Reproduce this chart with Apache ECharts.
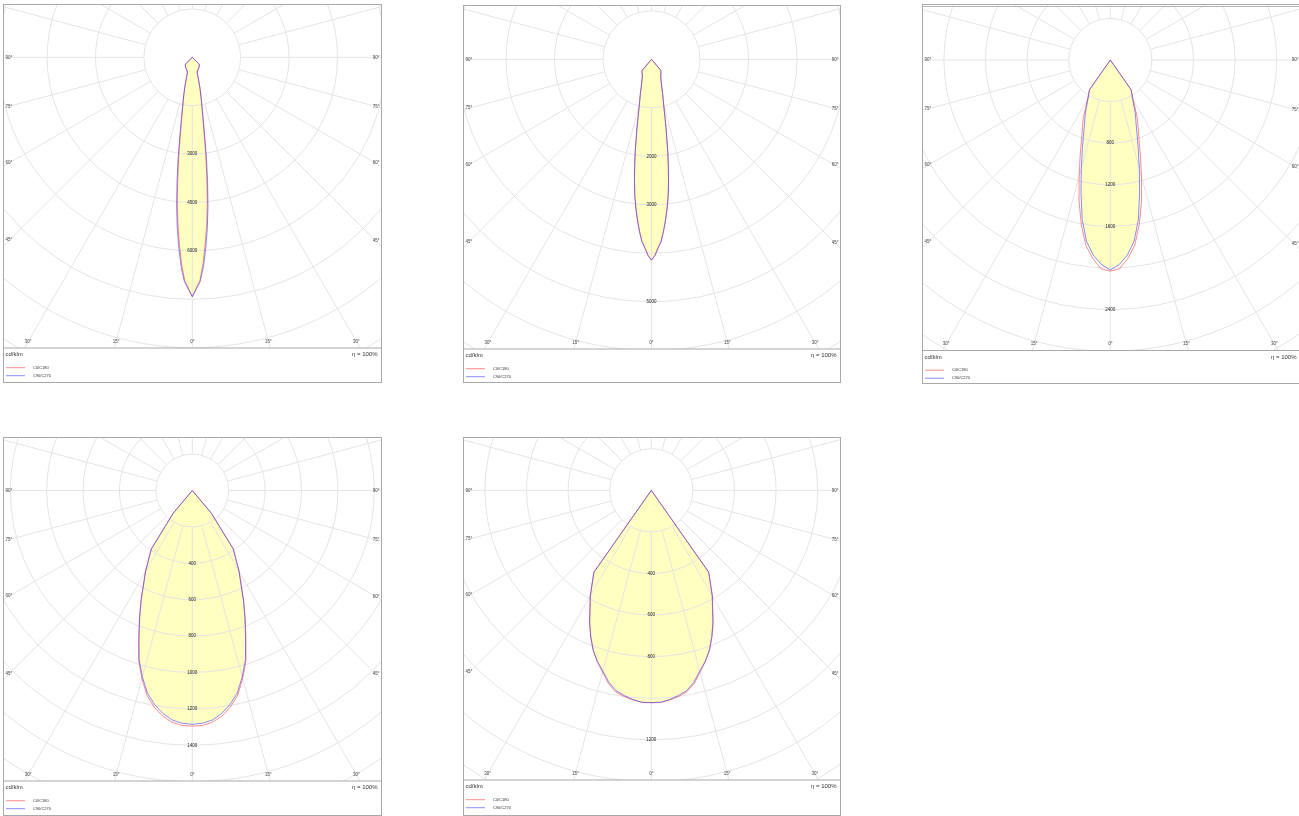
<!DOCTYPE html>
<html>
<head>
<meta charset="utf-8">
<script src="https://cdn.jsdelivr.net/npm/echarts@6/dist/echarts.min.js"></script>
<style>
  html, body { margin: 0; padding: 0; background: #fff; width: 1299px; height: 816px; overflow: hidden; }
  .panel { position: absolute; box-sizing: border-box; border: 1px solid #a9a9a9; background: #fff; }
  .panel .chart { position: absolute; left: 0; top: 0; }
</style>
</head>
<body>
<script>
  // gamma angles (deg from nadir) at which the curves were read
  var gammaNarrow = [0, 1, 2, 3, 4, 5, 6, 7, 8, 9, 10, 12, 14, 16, 18, 20, 25, 30, 35, 40, 45, 50, 60, 70, 80, 90];
  var gammaWide = [0, 2.5, 5, 7.5, 10, 12.5, 15, 17.5, 20, 22.5, 25, 30, 35, 40, 45, 50, 55, 60, 70, 80, 90];

  // cd/klm, C0/C180 and C90/C270 planes
  var p1C0 = [7420, 7150, 6900, 6400, 5780, 5150, 4450, 3670, 2940, 2300, 1860, 1320, 975, 650, 480, 445, 420, 395, 370, 340, 305, 0, 0, 0, 0, 0];
  var p1C90 = [7420, 7180, 6960, 6520, 5950, 5330, 4650, 3880, 3150, 2450, 1950, 1370, 990, 660, 485, 445, 420, 395, 370, 340, 305, 0, 0, 0, 0, 0];
  var p2C0 = [4140, 4040, 3880, 3760, 3550, 3320, 3080, 2820, 2520, 2210, 1930, 1430, 1085, 875, 740, 620, 460, 380, 340, 300, 0, 0, 0, 0, 0, 0];
  var p2C90 = [4140, 4050, 3900, 3770, 3560, 3330, 3090, 2830, 2530, 2220, 1940, 1440, 1090, 880, 745, 625, 460, 380, 340, 300, 0, 0, 0, 0, 0, 0];
  var p3C0 = [2030, 2010, 1918, 1798, 1606, 1389, 1158, 964, 807, 700, 613, 442, 348, 0, 0, 0, 0, 0, 0, 0, 0];
  var p3C90 = [2019, 1968, 1883, 1757, 1557, 1303, 1077, 894, 750, 645, 570, 428, 348, 0, 0, 0, 0, 0, 0, 0, 0];
  var p4C0 = [1295, 1292, 1278, 1250, 1208, 1152, 1070, 980, 862, 760, 668, 516, 394, 163, 0, 0, 0, 0, 0, 0, 0];
  var p4C90 = [1285, 1280, 1266, 1236, 1194, 1140, 1060, 972, 855, 755, 664, 513, 392, 162, 0, 0, 0, 0, 0, 0, 0];
  var p5C0 = [1021, 1021, 1012, 1000, 984, 952, 905, 864, 817, 760, 700, 585, 480, 0, 0, 0, 0, 0, 0, 0, 0];
  var p5C90 = [1021, 1020, 1010, 995, 978, 945, 900, 862, 818, 762, 703, 588, 482, 0, 0, 0, 0, 0, 0, 0, 0];

  // labelled rings on the 0° ray
  var p1Rings = [3000, 4500, 6000];
  var p2Rings = [2000, 3000, 5000];
  var p3Rings = [800, 1200, 1600, 2400];
  var p4Rings = [400, 600, 800, 1000, 1200, 1400];
  var p5Rings = [400, 600, 800, 1200];

  var sideAngles = [90, 75, 60, 45];
  var bottomAngles = [30, 15, 0];
  var seriesNames = ['C0/C180', 'C90/C270'];

  var FONT = '"Liberation Sans", Arial, sans-serif';
  var GRID = '#e4e4e4';
  var RED = 'rgba(255,60,60,0.6)';
  var BLUE = 'rgba(60,60,255,0.6)';
  var FILL = '#ffffc2';

  var panels = [
    { box: [3, 4, 379, 379], sep: 348, center: [192.3, 57.3], step: 1500, stepPx: 48.4, rings: p1Rings, gamma: gammaNarrow, c0: p1C0, c90: p1C90 },
    { box: [463, 5, 378, 378], sep: 349, center: [651.5, 59.3], step: 1000, stepPx: 48.5, rings: p2Rings, gamma: gammaNarrow, c0: p2C0, c90: p2C90 },
    { box: [922, 4, 379, 380], sep: 350.5, center: [1110.3, 60], step: 400, stepPx: 41.6, rings: p3Rings, gamma: gammaWide, c0: p3C0, c90: p3C90, topLine: true },
    { box: [3, 437, 379, 379], sep: 781, center: [192.3, 490.5], step: 200, stepPx: 36.4, rings: p4Rings, gamma: gammaWide, c0: p4C0, c90: p4C90 },
    { box: [463, 437, 378, 379], sep: 780, center: [651.3, 490.3], step: 200, stepPx: 41.6, rings: p5Rings, gamma: gammaWide, c0: p5C0, c90: p5C90 }
  ];

  // mirror one half-plane onto both sides of the nadir
  function halfToFull(gamma, vals) {
    var pts = [];
    for (var i = gamma.length - 1; i >= 0; i--) pts.push([vals[i], 360 - gamma[i]]);
    for (var j = 0; j < gamma.length; j++) pts.push([vals[j], gamma[j]]);
    return pts;
  }

  function txt(s, x, y, align, size, color) {
    return {
      type: 'text', x: x, y: y, z: 11, silent: true,
      style: { text: s, fill: color || '#444', fontSize: size || 4.5, fontFamily: FONT, align: align, verticalAlign: 'middle' }
    };
  }

  function panelOption(p) {
    var x0 = p.box[0] + 1, y0 = p.box[1] + 1;
    var w = p.box[2] - 2, h = p.box[3] - 2;
    var cx = p.center[0] - x0, cy = p.center[1] - y0;
    var sepY = p.sep - y0;
    var far = Math.max(Math.hypot(cx, cy), Math.hypot(w - cx, cy), Math.hypot(cx, sepY - cy), Math.hypot(w - cx, sepY - cy));
    var n = Math.ceil(far / p.stepPx) + 1;
    var outer = n * p.stepPx;
    var fillVals = p.c0.map(function (v, i) { return Math.min(v, p.c90[i]); });

    var g = [
      { type: 'rect', z: 10, silent: true, shape: { x: 0, y: sepY, width: w, height: h - sepY }, style: { fill: '#fff' } },
      { type: 'line', z: 11, silent: true, shape: { x1: 0, y1: sepY, x2: w, y2: sepY }, style: { stroke: '#a9a9a9', lineWidth: 1 } },
      txt('cd/klm', 1.5, sepY + 6.5, 'left', 6, '#333'),
      txt('η = 100%', w - 3.5, sepY + 6.5, 'right', 6, '#333')
    ];
    if (p.topLine) {
      g.push({ type: 'line', z: 11, silent: true, shape: { x1: 0, y1: 1.5, x2: w, y2: 1.5 }, style: { stroke: '#b5b5b5', lineWidth: 1 } });
    }
    // angle labels where the rays leave the plot frame
    var sideX = 5.5;
    sideAngles.forEach(function (a) {
      var t = Math.tan(a * Math.PI / 180);
      g.push(txt(a + '°', 1.5, cy + (cx - sideX) / t, 'left'));
      g.push(txt(a + '°', w - 1.5, cy + (w - sideX - cx) / t, 'right'));
    });
    var by = sepY - 6.3;
    bottomAngles.forEach(function (a) {
      var dx = (by - cy) * Math.tan(a * Math.PI / 180);
      g.push(txt(a + '°', cx - dx, by, 'center'));
      if (a) g.push(txt(a + '°', cx + dx, by, 'center'));
    });

    return {
      animation: false,
      textStyle: { fontFamily: FONT },
      polar: [
        { center: [cx, cy], radius: [0, outer] },
        { center: [cx, cy], radius: [p.stepPx, outer] }
      ],
      angleAxis: [
        { polarIndex: 0, type: 'value', min: 0, max: 360, startAngle: 270, clockwise: false, show: false },
        {
          polarIndex: 1, type: 'value', min: 0, max: 360, interval: 15, startAngle: 270, clockwise: false, z: 2,
          axisLine: { show: false }, axisTick: { show: false }, axisLabel: { show: false },
          splitLine: { show: true, lineStyle: { color: GRID, width: 1 } }
        }
      ],
      radiusAxis: [
        {
          polarIndex: 0, type: 'value', min: 0, max: n * p.step, interval: p.step, z: 2,
          axisLine: { show: false }, axisTick: { show: false },
          splitLine: { show: true, lineStyle: { color: GRID, width: 1 } },
          axisLabel: {
            margin: 0, align: 'center', verticalAlign: 'middle', fontSize: 4.5, color: '#222',
            formatter: function (v) { return p.rings.indexOf(v) >= 0 ? String(v) : ''; }
          }
        },
        { polarIndex: 1, type: 'value', min: 0, max: 1, show: false }
      ],
      legend: {
        data: seriesNames, orient: 'vertical', left: 2, top: sepY + 17.2, padding: 0,
        icon: 'rect', itemWidth: 19, itemHeight: 1, itemGap: 3, selectedMode: false, z: 12,
        textStyle: { fontSize: 4, lineHeight: 5, color: '#333', fontFamily: FONT, padding: [0, 0, 0, 3] }
      },
      graphic: { elements: g },
      series: [
        {
          name: 'fill', type: 'line', coordinateSystem: 'polar', polarIndex: 0, symbol: 'none', silent: true, z: 1,
          data: halfToFull(p.gamma, fillVals),
          lineStyle: { width: 0, opacity: 0 }, areaStyle: { color: FILL, opacity: 1 }
        },
        {
          name: seriesNames[0], type: 'line', coordinateSystem: 'polar', polarIndex: 0, symbol: 'none', z: 3,
          data: halfToFull(p.gamma, p.c0),
          lineStyle: { color: RED, width: 1 }, itemStyle: { color: RED }
        },
        {
          name: seriesNames[1], type: 'line', coordinateSystem: 'polar', polarIndex: 0, symbol: 'none', z: 3,
          data: halfToFull(p.gamma, p.c90),
          lineStyle: { color: BLUE, width: 1 }, itemStyle: { color: BLUE }
        }
      ]
    };
  }

  var charts = [];
  panels.forEach(function (p, i) {
    var box = document.createElement('div');
    box.className = 'panel';
    box.style.left = p.box[0] + 'px';
    box.style.top = p.box[1] + 'px';
    box.style.width = p.box[2] + 'px';
    box.style.height = p.box[3] + 'px';
    var el = document.createElement('div');
    el.className = 'chart';
    el.id = 'polar-' + (i + 1);
    el.style.width = (p.box[2] - 2) + 'px';
    el.style.height = (p.box[3] - 2) + 'px';
    box.appendChild(el);
    document.body.appendChild(box);
    var chart = echarts.init(el, null, { renderer: 'canvas' });
    chart.setOption(panelOption(p));
    charts.push({ name: 'panel' + (i + 1), chart: chart });
  });

  window.onresize = function () {
    charts.forEach(function (c) {
      if (c && c.chart) {
        c.chart.resize();
      }
    });
  };
</script>
</body>
</html>
